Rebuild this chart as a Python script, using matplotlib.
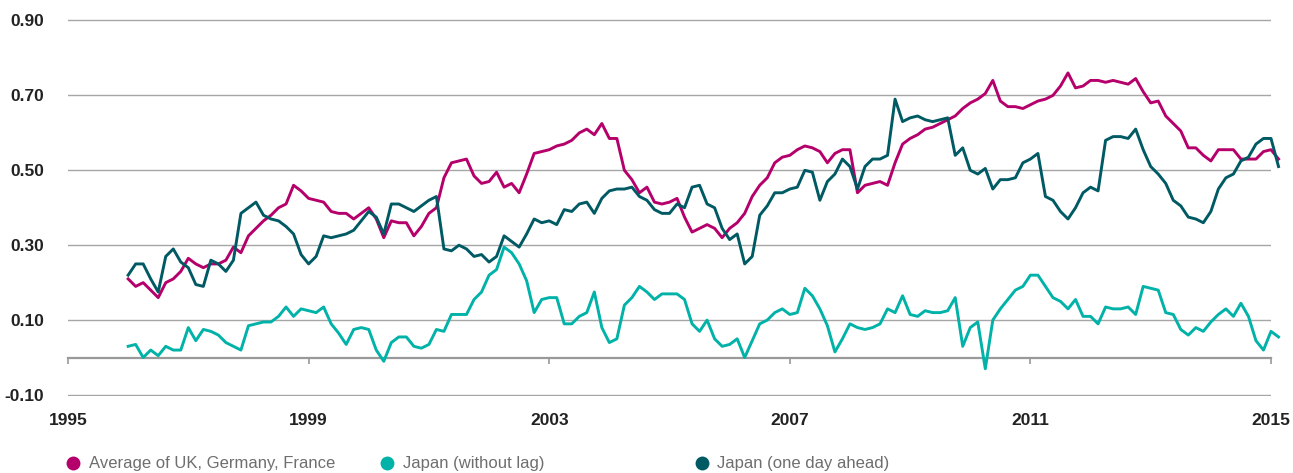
import numpy as np
import matplotlib
matplotlib.use("Agg")
import matplotlib.pyplot as plt
from matplotlib.lines import Line2D

# ---- data ----
start_year = 1996.0
step_year = 0.125

avg_ukdefr = [
    0.21, 0.19, 0.20, 0.18, 0.16, 0.20, 0.21, 0.23, 0.265, 0.25, 0.24, 0.25, 0.25, 0.26, 0.295, 0.28, 0.325, 0.345,
    0.365, 0.38, 0.40, 0.41, 0.46, 0.445, 0.425, 0.42, 0.415, 0.39, 0.385, 0.385, 0.37, 0.385, 0.40, 0.37, 0.32, 0.365, 0.36,
    0.36, 0.325, 0.35, 0.385, 0.40, 0.48, 0.52, 0.525, 0.53, 0.485, 0.465, 0.47, 0.495, 0.455, 0.465, 0.44, 0.49, 0.545, 0.55, 0.555,
    0.565, 0.57, 0.58, 0.60, 0.61, 0.595, 0.625, 0.585, 0.585, 0.50, 0.475, 0.44, 0.455, 0.415, 0.41, 0.415, 0.425, 0.375, 0.335,
    0.345, 0.355, 0.345, 0.32, 0.345, 0.36, 0.385, 0.43, 0.46, 0.48, 0.52, 0.535, 0.54, 0.555, 0.565, 0.56, 0.55, 0.52, 0.545,
    0.555, 0.555, 0.44, 0.46, 0.465, 0.47, 0.46, 0.52, 0.57, 0.585, 0.595, 0.61, 0.615, 0.625, 0.635, 0.645, 0.665, 0.68, 0.69, 0.705,
    0.74, 0.685, 0.67, 0.67, 0.665, 0.675, 0.685, 0.69, 0.70, 0.725, 0.76, 0.72, 0.725, 0.74, 0.74, 0.735, 0.74, 0.735, 0.73,
    0.745, 0.71, 0.68, 0.685, 0.645, 0.625, 0.605, 0.56, 0.56, 0.54, 0.525, 0.555, 0.555, 0.555, 0.53, 0.53, 0.53, 0.55, 0.555, 0.53,
]

japan_no_lag = [
    0.03, 0.035, 0.0, 0.02, 0.005, 0.03, 0.02, 0.02, 0.08, 0.045, 0.075, 0.07, 0.06, 0.04, 0.03, 0.02, 0.085, 0.09,
    0.095, 0.095, 0.11, 0.135, 0.11, 0.13, 0.125, 0.12, 0.135, 0.09, 0.065, 0.035, 0.075, 0.08, 0.075, 0.02, -0.01, 0.04, 0.055,
    0.055, 0.03, 0.025, 0.035, 0.075, 0.07, 0.115, 0.115, 0.115, 0.155, 0.175, 0.22, 0.235, 0.295, 0.28, 0.25, 0.205, 0.12, 0.155, 0.16,
    0.16, 0.09, 0.09, 0.11, 0.12, 0.175, 0.08, 0.04, 0.05, 0.14, 0.16, 0.19, 0.175, 0.155, 0.17, 0.17, 0.17, 0.155, 0.09,
    0.07, 0.10, 0.05, 0.03, 0.035, 0.05, 0.0, 0.045, 0.09, 0.10, 0.12, 0.13, 0.115, 0.12, 0.185, 0.165, 0.13, 0.085, 0.015,
    0.05, 0.09, 0.08, 0.075, 0.08, 0.09, 0.13, 0.12, 0.165, 0.115, 0.11, 0.125, 0.12, 0.12, 0.125, 0.16, 0.03, 0.08, 0.095, -0.03,
    0.10, 0.13, 0.155, 0.18, 0.19, 0.22, 0.22, 0.19, 0.16, 0.15, 0.13, 0.155, 0.11, 0.11, 0.09, 0.135, 0.13, 0.13, 0.135,
    0.115, 0.19, 0.185, 0.18, 0.12, 0.115, 0.075, 0.06, 0.08, 0.07, 0.095, 0.115, 0.13, 0.11, 0.145, 0.11, 0.045, 0.02, 0.07, 0.055,
]

japan_one_day_ahead = [
    0.22, 0.25, 0.25, 0.21, 0.175, 0.27, 0.29, 0.255, 0.24, 0.195, 0.19, 0.26, 0.25, 0.23, 0.26, 0.385, 0.40, 0.415,
    0.38, 0.37, 0.365, 0.35, 0.33, 0.275, 0.25, 0.27, 0.325, 0.32, 0.325, 0.33, 0.34, 0.365, 0.39, 0.375, 0.33, 0.41, 0.41,
    0.40, 0.39, 0.405, 0.42, 0.43, 0.29, 0.285, 0.30, 0.29, 0.27, 0.275, 0.255, 0.27, 0.325, 0.31, 0.295, 0.33, 0.37, 0.36, 0.365,
    0.355, 0.395, 0.39, 0.41, 0.415, 0.385, 0.425, 0.445, 0.45, 0.45, 0.455, 0.43, 0.42, 0.395, 0.385, 0.385, 0.41, 0.40, 0.455,
    0.46, 0.41, 0.40, 0.345, 0.315, 0.33, 0.25, 0.27, 0.38, 0.405, 0.44, 0.44, 0.45, 0.455, 0.50, 0.495, 0.42, 0.47, 0.49,
    0.53, 0.51, 0.45, 0.51, 0.53, 0.53, 0.54, 0.69, 0.63, 0.64, 0.645, 0.635, 0.63, 0.635, 0.64, 0.54, 0.56, 0.50, 0.49, 0.505,
    0.45, 0.475, 0.475, 0.48, 0.52, 0.53, 0.545, 0.43, 0.42, 0.39, 0.37, 0.40, 0.44, 0.455, 0.445, 0.58, 0.59, 0.59, 0.585,
    0.61, 0.555, 0.51, 0.49, 0.465, 0.42, 0.405, 0.375, 0.37, 0.36, 0.39, 0.45, 0.48, 0.49, 0.525, 0.535, 0.57, 0.585, 0.585, 0.51,
]

series_labels = ["Average of UK, Germany, France", "Japan (without lag)", "Japan (one day ahead)"]
series_colors = ["#B5006B", "#00B2A7", "#005A64"]
x_ticks = [1995, 1999, 2003, 2007, 2011, 2015]
y_ticks = [-0.10, 0.10, 0.30, 0.50, 0.70, 0.90]

years = start_year + step_year * np.arange(len(avg_ukdefr))

# ---- figure ----
W, H = 1293, 473
fig = plt.figure(figsize=(W / 100, H / 100), dpi=100)
y_lo, y_hi = -0.103, 0.903
px_per_unit = 375.0
left, right = 68 / W, 1271 / W
bottom_px = 395 + 0.003 * px_per_unit
top_px = 20.5 - 0.003 * px_per_unit
bottom, top = (H - bottom_px) / H, (H - top_px) / H
ax = fig.add_axes([left, bottom, right - left, top - bottom])

for vals, col in zip([avg_ukdefr, japan_no_lag, japan_one_day_ahead], series_colors):
    ax.plot(years, vals, color=col, lw=2.1, clip_on=False, solid_joinstyle="round", zorder=3)

ax.set_xlim(1995, 2015)
ax.set_ylim(y_lo, y_hi)

ax.set_yticks(y_ticks)
ax.set_yticklabels([f"{v:.2f}" for v in y_ticks])
ax.grid(axis="y", color="#A6A6A6", lw=1.0, zorder=1)
ax.grid(axis="x", visible=False)

for s in ["top", "right", "left"]:
    ax.spines[s].set_visible(False)
ax.spines["bottom"].set_position(("data", 0))
ax.spines["bottom"].set_color("#999999")
ax.spines["bottom"].set_linewidth(1.6)
ax.spines["bottom"].set_zorder(2)

ax.set_xticks(x_ticks)
ax.set_xticklabels([str(v) for v in x_ticks])

tick_font = dict(family="Liberation Sans", weight="bold", size=12.5)
for lab in ax.get_xticklabels() + ax.get_yticklabels():
    lab.set_fontproperties(matplotlib.font_manager.FontProperties(**tick_font))
    lab.set_color("#222222")

ax.tick_params(axis="x", direction="out", length=4, width=1.2, color="#999999", pad=36)
ax.tick_params(axis="y", length=0, pad=17)

# ---- legend ----
leg_y = (H - 463) / H
marker_x = [73, 387, 702]
text_x = [89, 403, 717]
for mx, tx, lab, col in zip(marker_x, text_x, series_labels, series_colors):
    fig.add_artist(Line2D([mx / W], [leg_y], marker="o", markersize=10, color=col,
                          markeredgewidth=0, transform=fig.transFigure))
    fig.text(tx / W, leg_y, lab, ha="left", va="center", color="#6E6E6E",
             family="Liberation Sans", size=12)

fig.savefig("out.png", dpi=100)
